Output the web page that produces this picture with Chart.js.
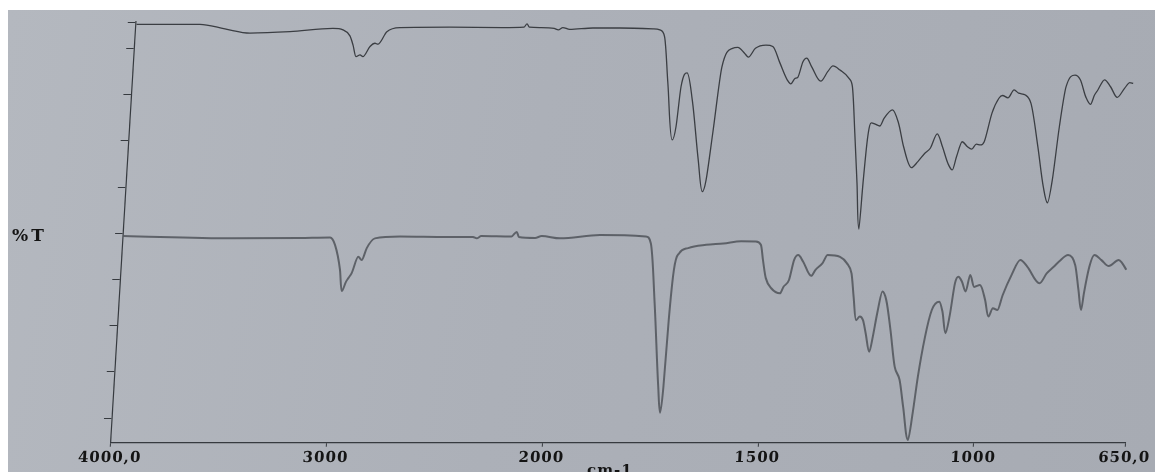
<!DOCTYPE html>
<html>
<head>
<meta charset="utf-8">
<title>%T</title>
<script src="https://cdn.jsdelivr.net/npm/chart.js@4/dist/chart.umd.min.js"></script>
<style>
  html, body { margin: 0; padding: 0; background: #fff; }
  #sheet { position: relative; width: 1155px; height: 472px; overflow: hidden; background: #fff; }
  #paper {
    position: absolute; left: 8px; top: 10px; right: 0; bottom: 0;
    background: linear-gradient(100deg, #b4b8bf 0%, #acb0b8 45%, #a7abb3 100%);
  }
  #plot { position: absolute; left: 0; top: 0; width: 1155px; height: 472px; }
</style>
</head>
<body>
<div id="sheet">
  <div id="paper"></div>
  <div id="plot"><canvas id="spectrum"></canvas></div>
</div>
<script>
// upper trace
const wavenumbersA = [
  3996, 3702, 3585, 3468, 3283, 3085, 3038, 3004, 2987, 2970, 2952, 2938, 2908, 2886, 2872, 2834, 2774,
  2543, 2300, 2200, 2187, 2175, 2120, 2060, 2040, 2020, 1994, 1940, 1878, 1801, 1785, 1773, 1759, 1741,
  1734, 1728, 1716, 1700, 1678, 1664, 1657, 1648, 1636, 1614, 1602, 1585, 1576, 1561, 1537, 1521, 1502,
  1483, 1474, 1465, 1459, 1449, 1441, 1428, 1405, 1390, 1379, 1362, 1340, 1331, 1319, 1307, 1296, 1293,
  1289, 1282, 1273, 1262, 1253, 1235, 1219, 1204, 1183, 1169, 1154, 1142, 1128, 1114, 1099, 1088, 1080,
  1069, 1056, 1046, 1036, 1026, 1018, 1004, 990, 982, 969, 956, 945, 929, 915, 893, 875, 863, 855, 846,
  836, 817, 804, 789, 777, 769, 762, 748, 733, 716, 700, 689, 681
];
const transmittanceA = [
  85.2, 85.2, 84.2, 83.3, 83.6, 84.3, 84.0, 82.7, 80.7, 78.2, 78.6, 78.2, 80.4, 81.1, 80.9, 83.6, 84.5,
  84.6, 84.5, 84.6, 85.3, 84.6, 84.5, 84.3, 84.0, 84.5, 84.1, 84.4, 84.4, 84.2, 84.0, 82.5, 72.5, 60.2,
  63.1, 71.7, 74.7, 68.8, 55.9, 49.0, 51.5, 61.7, 76.0, 80.0, 80.2, 78.9, 78.1, 80.0, 80.7, 80.4, 76.8,
  73.2, 72.3, 73.5, 73.7, 77.1, 77.9, 76.0, 72.9, 75.0, 76.2, 75.3, 73.5, 71.7, 61.7, 50.9, 40.9, 50.9,
  60.2, 63.9, 63.6, 63.2, 64.9, 66.7, 63.8, 58.7, 54.2, 55.5, 57.3, 58.4, 61.5, 58.7, 55.1, 53.7, 56.6,
  59.8, 58.7, 58.2, 59.3, 59.1, 59.8, 66.0, 69.2, 69.8, 69.3, 71.0, 70.3, 69.9, 68.1, 58.7, 50.1, 46.6, 51.5, 63.1,
  71.7, 74.2, 73.2, 69.5, 67.9, 69.9, 71.0, 73.2, 71.7, 69.4, 71.4, 72.6, 72.4
];

// lower trace
const wavenumbersB = [
  3998, 3490, 3179, 3040, 3015, 2985, 2971, 2954, 2944, 2930, 2904, 2887, 2867, 2832, 2716, 2500, 2378,
  2360, 2340, 2200, 2177, 2165, 2090, 2060, 1987, 1895, 1789, 1776, 1759, 1739, 1731, 1727, 1724, 1719,
  1709, 1689, 1648, 1608, 1567, 1534, 1521, 1514, 1505, 1491, 1470, 1463, 1451, 1442, 1433, 1421, 1400,
  1391, 1376, 1365, 1336, 1319, 1307, 1299, 1290, 1282, 1274, 1266, 1255, 1249, 1242, 1233, 1223, 1209,
  1194, 1181, 1169, 1153, 1146, 1139, 1128, 1116, 1100, 1091, 1081, 1074, 1066, 1059, 1050, 1040, 1032,
  1021, 1008, 994, 984, 975, 964, 954, 936, 918, 901, 870, 855, 839, 828, 808, 790, 779, 770, 766, 757,
  747, 730, 712, 690, 682, 671
];
const transmittanceB = [
  39.4, 38.9, 39.0, 39.1, 37.5, 32.1, 27.5, 29.5, 30.3, 31.4, 34.9, 34.2, 36.8, 38.9, 39.3, 39.2, 39.2,
  38.9, 39.4, 39.3, 40.3, 39.2, 39.0, 39.4, 38.9, 39.6, 39.3, 37.8, 24.9, 6.8, 1.2, 6.8, 21.2, 32.1,
  35.7, 36.8, 37.5, 37.8, 38.3, 38.2, 37.5, 34.2, 30.3, 28.1, 27.0, 28.4, 29.9, 34.2, 35.3, 33.9, 30.8,
  32.1, 33.5, 35.3, 34.9, 33.5, 31.3, 26.3, 21.2, 22.0, 21.2, 18.4, 14.4, 17.6, 22.7, 27.4, 25.6, 19.1,
  11.1, 8.3, 2.5, -4.7, 1.1, 9.0, 17.6, 23.4, 25.2, 23.0, 18.4, 22.0, 29.2, 30.6, 29.5, 27.4, 31.0,
  28.4, 28.8, 25.6, 22.0, 23.8, 23.4, 26.6, 31.0, 34.2, 32.8, 29.2, 31.3, 32.8, 33.9, 35.3, 33.1, 27.7, 23.4, 27.0, 32.8,
  35.3, 34.2, 32.9, 34.2, 33.6, 32.1
];

const xTickWavenumbers = [4000, 3000, 2000, 1500, 1000, 650];
const xTickLabels = ['4000,0', '3000', '2000', '1500', '1000', '650,0'];
const yTickValues = [0, 10, 20, 30, 40, 50, 60, 70, 80, 85.7];
const yMin = -5.3;
const yMax = 85.7;

// abscissa runs 1 unit per cm-1 above 2000 and 2 units per cm-1 below (scale change)
function wnToAxis(wn) {
  return wn >= 2000 ? 4000 - wn : 2000 + 2 * (2000 - wn);
}
const toPoints = (xs, ys) => xs.map((wn, i) => ({ x: wnToAxis(wn), y: ys[i] }));

const ink = '#363a3f';
const labelFont = { family: 'DejaVu Serif', weight: 'bold', size: 15 };

// the sheet sits slightly tilted, so the plot is sheared about the baseline
const tiltedSheet = {
  id: 'tiltedSheet',
  beforeDraw(chart) {
    const ctx = chart.ctx;
    const k = -0.0601;
    const y0 = chart.chartArea.bottom;
    ctx.save();
    ctx.letterSpacing = '1px';
    ctx.transform(1, 0, k, 1, -k * y0, 0);
  },
  afterDraw(chart) {
    const ctx = chart.ctx;
    ctx.restore();
    ctx.save();
    ctx.fillStyle = '#141414';
    ctx.letterSpacing = '3px';
    ctx.font = 'bold 17px "DejaVu Serif"';
    ctx.textBaseline = 'middle';
    ctx.fillText('%T', 12, 237);
    ctx.font = 'bold 15px "DejaVu Serif"';
    ctx.letterSpacing = '1px';
    ctx.textBaseline = 'alphabetic';
    ctx.fillText('cm-1', 587, 475);
    ctx.restore();
  }
};

new Chart(document.getElementById('spectrum'), {
  type: 'line',
  data: {
    datasets: [
      {
        data: toPoints(wavenumbersA, transmittanceA),
        borderColor: '#3b3e43',
        borderWidth: 1.3,
        pointRadius: 0,
        cubicInterpolationMode: 'monotone'
      },
      {
        data: toPoints(wavenumbersB, transmittanceB),
        borderColor: 'rgba(74, 78, 84, 0.8)',
        borderWidth: 2,
        pointRadius: 0,
        cubicInterpolationMode: 'monotone'
      }
    ]
  },
  options: {
    animation: false,
    responsive: true,
    maintainAspectRatio: false,
    layout: { padding: { left: 0, right: 30, top: 22, bottom: 0 } },
    plugins: { legend: { display: false }, tooltip: { enabled: false } },
    scales: {
      x: {
        type: 'linear',
        min: 0,
        max: 4700,
        afterBuildTicks: s => { s.ticks = xTickWavenumbers.map(wn => ({ value: wnToAxis(wn) })); },
        afterFit: s => { s.height = 29.3; },
        grid: { drawOnChartArea: false, tickLength: 4, color: ink, lineWidth: 1 },
        border: { color: ink, width: 1.2 },
        ticks: {
          autoSkip: false,
          maxRotation: 0,
          padding: 2,
          color: '#141414',
          font: labelFont,
          callback: (v, i) => xTickLabels[i]
        }
      },
      y: {
        type: 'linear',
        min: yMin,
        max: yMax,
        afterBuildTicks: s => { s.ticks = yTickValues.map(v => ({ value: v })); },
        afterFit: s => { s.width = 110.5; },
        grid: { drawOnChartArea: false, tickLength: 8, color: ink, lineWidth: 1 },
        border: { color: ink, width: 1.2 },
        ticks: { display: false }
      }
    }
  },
  plugins: [tiltedSheet]
});
</script>
</body>
</html>
